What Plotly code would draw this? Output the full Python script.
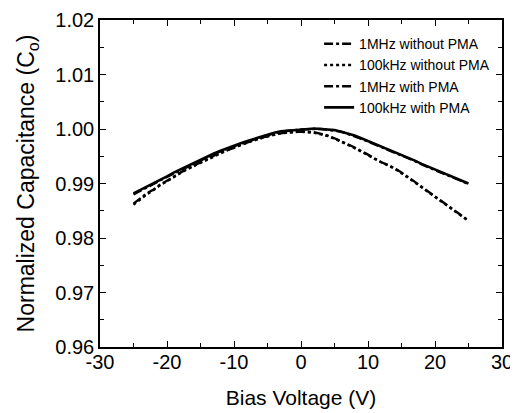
import plotly.graph_objects as go

# Bias voltage (V)
bias = [-25, -24, -23, -22, -21, -20, -19, -18, -17, -16, -15, -14, -13, -12, -11, -10,
        -9, -8, -7, -6, -5, -4, -3, -2, -1, 0, 1, 2, 3, 4, 5, 6, 7, 8, 9, 10,
        11, 12, 13, 14, 15, 16, 17, 18, 19, 20, 21, 22, 23, 24, 25]

c_1mhz_no_pma = [0.9863, 0.9873, 0.9882, 0.9889, 0.9898, 0.9905, 0.9913, 0.9920, 0.9927, 0.9933,
                 0.9939, 0.9945, 0.9951, 0.9957, 0.9961, 0.9966, 0.9971, 0.9976, 0.9980, 0.9984,
                 0.9987, 0.9990, 0.9992, 0.9994, 0.9995, 0.9995, 0.9995, 0.9994, 0.9991, 0.9988,
                 0.9983, 0.9978, 0.9972, 0.9966, 0.9960, 0.9953, 0.9946, 0.9939, 0.9934, 0.9928,
                 0.9920, 0.9912, 0.9903, 0.9894, 0.9885, 0.9876, 0.9867, 0.9858, 0.9849, 0.9840, 0.9832]

c_100khz_no_pma = [0.9861, 0.9871, 0.9880, 0.9888, 0.9897, 0.9904, 0.9912, 0.9919, 0.9926, 0.9932,
                   0.9938, 0.9944, 0.9950, 0.9956, 0.9961, 0.9966, 0.9971, 0.9975, 0.9979, 0.9983,
                   0.9987, 0.9990, 0.9992, 0.9993, 0.9994, 0.9995, 0.9994, 0.9993, 0.9990, 0.9987,
                   0.9982, 0.9977, 0.9971, 0.9965, 0.9959, 0.9952, 0.9945, 0.9939, 0.9933, 0.9927,
                   0.9919, 0.9911, 0.9902, 0.9893, 0.9884, 0.9875, 0.9866, 0.9857, 0.9848, 0.9839, 0.9831]

c_1mhz_pma = [0.9880, 0.9886, 0.9893, 0.9899, 0.9906, 0.9912, 0.9919, 0.9925, 0.9931, 0.9937,
              0.9943, 0.9949, 0.9954, 0.9959, 0.9964, 0.9968, 0.9973, 0.9977, 0.9981, 0.9985,
              0.9989, 0.9992, 0.9995, 0.9997, 0.9998, 0.9999, 1.0000, 1.0000, 1.0000, 0.9999,
              0.9997, 0.9995, 0.9991, 0.9987, 0.9982, 0.9977, 0.9972, 0.9967, 0.9962, 0.9957,
              0.9952, 0.9946, 0.9941, 0.9935, 0.9930, 0.9924, 0.9919, 0.9914, 0.9909, 0.9904, 0.9899]

c_100khz_pma = [0.9882, 0.9888, 0.9894, 0.9901, 0.9907, 0.9913, 0.9920, 0.9926, 0.9932, 0.9938,
                0.9944, 0.9950, 0.9955, 0.9960, 0.9965, 0.9969, 0.9974, 0.9978, 0.9982, 0.9986,
                0.9990, 0.9993, 0.9996, 0.9997, 0.9999, 0.9999, 1.0000, 1.0001, 1.0000, 0.9999,
                0.9998, 0.9995, 0.9992, 0.9988, 0.9983, 0.9978, 0.9973, 0.9968, 0.9963, 0.9958,
                0.9953, 0.9947, 0.9942, 0.9936, 0.9931, 0.9925, 0.9920, 0.9915, 0.9910, 0.9905, 0.9900]

series_names = ["1MHz without PMA", "100kHz without PMA", "1MHz with PMA", "100kHz with PMA"]
series_values = [c_1mhz_no_pma, c_100khz_no_pma, c_1mhz_pma, c_100khz_pma]
dashes = ["dashdot", "dot", "dashdot", "solid"]
widths = [2.4, 2.4, 2.4, 2.6]

x_ticks = [-30, -20, -10, 0, 10, 20, 30]
y_ticks = [0.96, 0.97, 0.98, 0.99, 1.00, 1.01, 1.02]

FONT = "Liberation Sans, Arial, sans-serif"

fig = go.Figure()
for name, vals, d, w in zip(series_names, series_values, dashes, widths):
    fig.add_trace(go.Scatter(x=bias, y=vals, mode="lines", name=name,
                             line=dict(color="black", width=w, dash=d)))

axis_common = dict(showline=True, linecolor="black", linewidth=1.5, mirror="ticks",
                   ticks="inside", ticklen=6, tickwidth=1.2, tickcolor="black",
                   showgrid=False, zeroline=False, automargin=False,
                   tickfont=dict(family=FONT, size=20, color="black"))

fig.update_xaxes(range=[-30, 30], tickvals=x_ticks, ticktext=[str(v) for v in x_ticks],
                 ticklabelstandoff=-4,
                 minor=dict(ticks="inside", ticklen=4, dtick=5, tick0=-30, tickcolor="black", tickwidth=1.2),
                 title=dict(text="Bias Voltage (V)", font=dict(family=FONT, size=21, color="black"), standoff=19),
                 **axis_common)
fig.update_yaxes(range=[0.96, 1.02], tickvals=y_ticks, ticktext=[f"{v:.2f}" for v in y_ticks],
                 minor=dict(ticks="inside", ticklen=4, dtick=0.005, tick0=0.96, tickcolor="black", tickwidth=1.2),
                 title=dict(text="Normalized Capacitance (C<sub>o</sub>)", font=dict(family=FONT, size=23, color="black"), standoff=14),
                 **axis_common)

# page body has an 8px margin, so the figure is drawn at (8, 8) in the window
fig.update_layout(
    width=510, height=405,
    margin=dict(l=92, r=16, t=12, b=66, autoexpand=False),
    paper_bgcolor="white", plot_bgcolor="white",
    font=dict(family=FONT, color="black"),
    legend=dict(x=0.545, y=0.975, xanchor="left", yanchor="top",
                bgcolor="rgba(0,0,0,0)", font=dict(family=FONT, size=14, color="black"),
                itemwidth=30, tracegroupgap=0),
    showlegend=True,
)

fig.write_html("out.html")
